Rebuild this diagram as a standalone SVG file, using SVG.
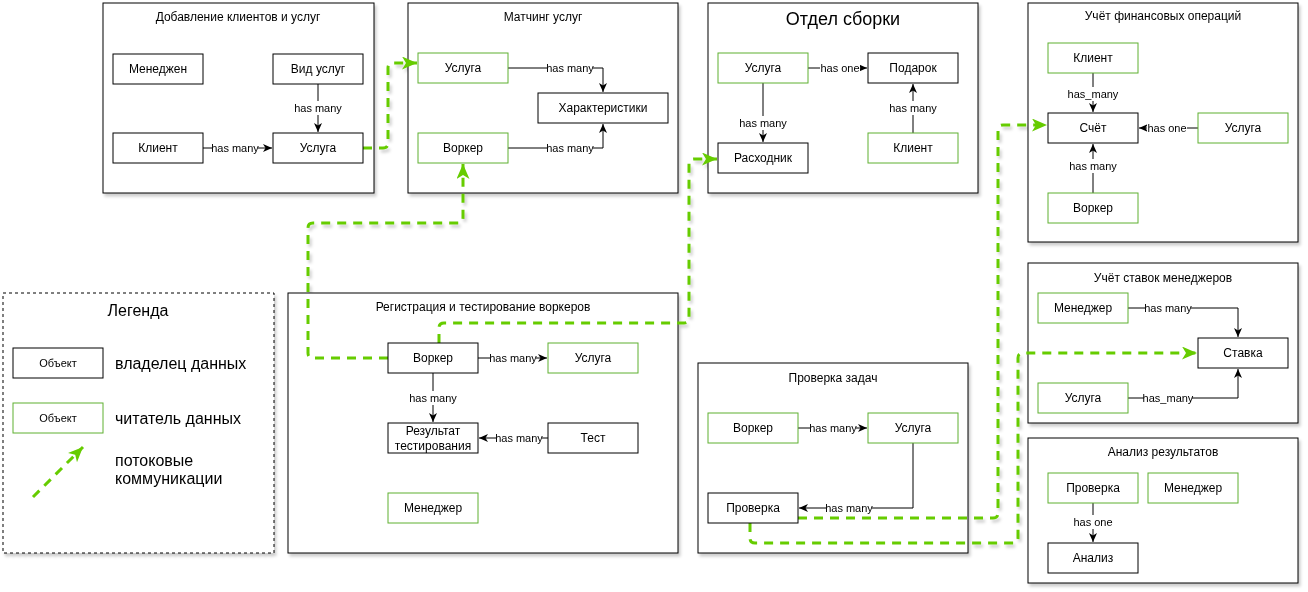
<svg xmlns="http://www.w3.org/2000/svg" width="1308" height="592" viewBox="0 0 1308 592">
<style>
text{font-family:"Liberation Sans",Arial,sans-serif;fill:#000;text-anchor:middle;dominant-baseline:central}
.c{fill:#fff;stroke:#000;stroke-width:1}
.o{fill:#fff;stroke:#000;stroke-width:1}
.r{fill:#fff;stroke:#5fb030;stroke-width:1}
.t{font-size:12px}
.n{font-size:12px}
.l{font-size:11px}
.lb{fill:#fff;stroke:none}
.e{fill:none;stroke:#000;stroke-width:1;marker-end:url(#ah)}
.f{fill:none;stroke:#66cc00;stroke-width:3;stroke-dasharray:9 7;marker-end:url(#gh)}
.lg{font-size:16px;text-anchor:start}
</style>
<defs>
<marker id="ah" markerUnits="userSpaceOnUse" markerWidth="10" markerHeight="9" refX="9" refY="4" orient="auto"><path d="M0,0 L9,4 L0,8 L2.5,4 z" fill="#000"/></marker>
<marker id="gh" markerUnits="userSpaceOnUse" markerWidth="16" markerHeight="14" refX="15" refY="6.5" orient="auto"><path d="M0,0 L15,6.5 L0,13 L4,6.5 z" fill="#66cc00"/></marker>
<filter id="sh" x="-5%" y="-5%" width="115%" height="115%"><feDropShadow dx="2" dy="3" stdDeviation="1.5" flood-color="#000" flood-opacity="0.2"/></filter>
</defs>
<g filter="url(#sh)">
<!-- containers -->
<g id="c-add">
<rect class="c" x="103" y="3" width="271" height="190"/>
<text class="t" x="238" y="17">Добавление клиентов и услуг</text>
</g>
<g id="c-match">
<rect class="c" x="408" y="3" width="270" height="190"/>
<text class="t" x="543" y="17">Матчинг услуг</text>
</g>
<g id="c-build">
<rect class="c" x="708" y="3" width="270" height="190"/>
<text x="843" y="19" style="font-size:18px">Отдел сборки</text>
</g>
<g id="c-fin">
<rect class="c" x="1028" y="3" width="270" height="239"/>
<text class="t" x="1163" y="16">Учёт финансовых операций</text>
</g>
<g id="c-legend">
<rect x="3" y="293" width="271" height="260" fill="#fff" stroke="#000" stroke-width="1" stroke-dasharray="3 3"/>
<text x="138" y="310" style="font-size:16px">Легенда</text>
</g>
<g id="c-reg">
<rect class="c" x="288" y="293" width="390" height="260"/>
<text class="t" x="483" y="307">Регистрация и тестирование воркеров</text>
</g>
<g id="c-check">
<rect class="c" x="698" y="363" width="270" height="190"/>
<text class="t" x="833" y="378">Проверка задач</text>
</g>
<g id="c-rate">
<rect class="c" x="1028" y="263" width="270" height="160"/>
<text class="t" x="1163" y="278">Учёт ставок менеджеров</text>
</g>
<g id="c-anal">
<rect class="c" x="1028" y="438" width="270" height="145"/>
<text class="t" x="1163" y="452">Анализ результатов</text>
</g>

<!-- connectors -->
<g id="connectors">
<path class="e" d="M318,84 L318,132"/>
<path class="e" d="M203,148 L272,148"/>
<path class="e" d="M508,68 L603,68 L603,92"/>
<path class="e" d="M508,148 L603,148 L603,124"/>
<path class="e" d="M808,68 L867,68"/>
<path class="e" d="M763,83 L763,142"/>
<path class="e" d="M913,133 L913,84"/>
<path class="e" d="M1093,73 L1093,112"/>
<path class="e" d="M1198,128 L1139,128"/>
<path class="e" d="M1093,193 L1093,144"/>
<path class="e" d="M478,358 L547,358"/>
<path class="e" d="M433,373 L433,422"/>
<path class="e" d="M548,438 L479,438"/>
<path class="e" d="M798,428 L867,428"/>
<path class="e" d="M913,443 L913,508 L799,508"/>
<path class="e" d="M1128,308 L1238,308 L1238,337"/>
<path class="e" d="M1128,398 L1238,398 L1238,369"/>
<path class="e" d="M1093,503 L1093,542"/>
<!-- labels -->
<rect class="lb" x="295" y="101" width="46" height="14"/><text class="l" x="318" y="108">has many</text>
<rect class="lb" x="212" y="141" width="46" height="14"/><text class="l" x="235" y="148">has many</text>
<rect class="lb" x="547" y="61" width="46" height="14"/><text class="l" x="570" y="68">has many</text>
<rect class="lb" x="547" y="141" width="46" height="14"/><text class="l" x="570" y="148">has many</text>
<rect class="lb" x="820" y="61" width="40" height="14"/><text class="l" x="840" y="68">has one</text>
<rect class="lb" x="740" y="116" width="46" height="14"/><text class="l" x="763" y="123">has many</text>
<rect class="lb" x="890" y="101" width="46" height="14"/><text class="l" x="913" y="108">has many</text>
<rect class="lb" x="1069" y="87" width="48" height="14"/><text class="l" x="1093" y="94">has_many</text>
<rect class="lb" x="1147" y="121" width="40" height="14"/><text class="l" x="1167" y="128">has one</text>
<rect class="lb" x="1070" y="159" width="46" height="14"/><text class="l" x="1093" y="166">has many</text>
<rect class="lb" x="490" y="351" width="46" height="14"/><text class="l" x="513" y="358">has many</text>
<rect class="lb" x="410" y="391" width="46" height="14"/><text class="l" x="433" y="398">has many</text>
<rect class="lb" x="496" y="431" width="46" height="14"/><text class="l" x="519" y="438">has many</text>
<rect class="lb" x="810" y="421" width="46" height="14"/><text class="l" x="833" y="428">has many</text>
<rect class="lb" x="826" y="501" width="46" height="14"/><text class="l" x="849" y="508">has many</text>
<rect class="lb" x="1145" y="301" width="46" height="14"/><text class="l" x="1168" y="308">has many</text>
<rect class="lb" x="1144" y="391" width="48" height="14"/><text class="l" x="1168" y="398">has_many</text>
<rect class="lb" x="1073" y="515" width="40" height="14"/><text class="l" x="1093" y="522">has one</text>
<!-- flows -->
<path class="f" d="M363,148 L383,148 Q388,148 388,143 L388,68 Q388,63 393,63 L417,63"/>
<path class="f" d="M388,358 L313,358 Q308,358 308,353 L308,228 Q308,223 313,223 L458,223 Q463,223 463,218 L463,164"/>
<path class="f" d="M439,343 L439,328 Q439,323 444,323 L684,323 Q689,323 689,318 L689,164 Q689,159 694,159 L717,159"/>
<path class="f" d="M798,518 L993,518 Q998,518 998,513 L998,130 Q998,125 1003,125 L1047,125"/>
<path class="f" d="M750,523 L750,538 Q750,543 755,543 L1013,543 Q1018,543 1018,538 L1018,358 Q1018,353 1023,353 L1197,353"/>
<path class="f" d="M33,497 L83,447"/>
</g>

<!-- nodes -->
<g id="n-manager1"><rect class="o" x="113" y="54" width="90" height="30"/><text class="n" x="158" y="69">Менеджен</text></g>
<g id="n-servtype"><rect class="o" x="273" y="54" width="90" height="30"/><text class="n" x="318" y="69">Вид услуг</text></g>
<g id="n-client1"><rect class="o" x="113" y="133" width="90" height="30"/><text class="n" x="158" y="148">Клиент</text></g>
<g id="n-serv1"><rect class="o" x="273" y="133" width="90" height="30"/><text class="n" x="318" y="148">Услуга</text></g>

<g id="n-serv2"><rect class="r" x="418" y="53" width="90" height="30"/><text class="n" x="463" y="68">Услуга</text></g>
<g id="n-worker2"><rect class="r" x="418" y="133" width="90" height="30"/><text class="n" x="463" y="148">Воркер</text></g>
<g id="n-char"><rect class="o" x="538" y="93" width="130" height="30"/><text class="n" x="603" y="108">Характеристики</text></g>

<g id="n-serv3"><rect class="r" x="718" y="53" width="90" height="30"/><text class="n" x="763" y="68">Услуга</text></g>
<g id="n-gift"><rect class="o" x="868" y="53" width="90" height="30"/><text class="n" x="913" y="68">Подарок</text></g>
<g id="n-cons"><rect class="o" x="718" y="143" width="90" height="30"/><text class="n" x="763" y="158">Расходник</text></g>
<g id="n-client3"><rect class="r" x="868" y="133" width="90" height="30"/><text class="n" x="913" y="148">Клиент</text></g>

<g id="n-client4"><rect class="r" x="1048" y="43" width="90" height="30"/><text class="n" x="1093" y="58">Клиент</text></g>
<g id="n-bill"><rect class="o" x="1048" y="113" width="90" height="30"/><text class="n" x="1093" y="128">Счёт</text></g>
<g id="n-serv4"><rect class="r" x="1198" y="113" width="90" height="30"/><text class="n" x="1243" y="128">Услуга</text></g>
<g id="n-worker4"><rect class="r" x="1048" y="193" width="90" height="30"/><text class="n" x="1093" y="208">Воркер</text></g>

<g id="n-leg-owner"><rect class="o" x="13" y="348" width="90" height="30"/><text x="58" y="363" style="font-size:11px">Объект</text><text class="lg" x="115" y="363">владелец данных</text></g>
<g id="n-leg-reader"><rect class="r" x="13" y="403" width="90" height="30"/><text x="58" y="418" style="font-size:11px">Объект</text><text class="lg" x="115" y="418">читатель данных</text></g>
<g id="n-leg-flow"><text class="lg" x="115" y="460">потоковые</text><text class="lg" x="115" y="478">коммуникации</text></g>

<g id="n-worker5"><rect class="o" x="388" y="343" width="90" height="30"/><text class="n" x="433" y="358">Воркер</text></g>
<g id="n-serv5"><rect class="r" x="548" y="343" width="90" height="30"/><text class="n" x="593" y="358">Услуга</text></g>
<g id="n-result"><rect class="o" x="388" y="423" width="90" height="30"/><text class="n" x="433" y="431">Результат</text><text class="n" x="433" y="446">тестирования</text></g>
<g id="n-test"><rect class="o" x="548" y="423" width="90" height="30"/><text class="n" x="593" y="438">Тест</text></g>
<g id="n-manager5"><rect class="r" x="388" y="493" width="90" height="30"/><text class="n" x="433" y="508">Менеджер</text></g>

<g id="n-worker6"><rect class="r" x="708" y="413" width="90" height="30"/><text class="n" x="753" y="428">Воркер</text></g>
<g id="n-serv6"><rect class="r" x="868" y="413" width="90" height="30"/><text class="n" x="913" y="428">Услуга</text></g>
<g id="n-check6"><rect class="o" x="708" y="493" width="90" height="30"/><text class="n" x="753" y="508">Проверка</text></g>

<g id="n-manager7"><rect class="r" x="1038" y="293" width="90" height="30"/><text class="n" x="1083" y="308">Менеджер</text></g>
<g id="n-rate"><rect class="o" x="1198" y="338" width="90" height="30"/><text class="n" x="1243" y="353">Ставка</text></g>
<g id="n-serv7"><rect class="r" x="1038" y="383" width="90" height="30"/><text class="n" x="1083" y="398">Услуга</text></g>

<g id="n-check8"><rect class="r" x="1048" y="473" width="90" height="30"/><text class="n" x="1093" y="488">Проверка</text></g>
<g id="n-manager8"><rect class="r" x="1148" y="473" width="90" height="30"/><text class="n" x="1193" y="488">Менеджер</text></g>
<g id="n-anal"><rect class="o" x="1048" y="543" width="90" height="30"/><text class="n" x="1093" y="558">Анализ</text></g>
</g>
</svg>
